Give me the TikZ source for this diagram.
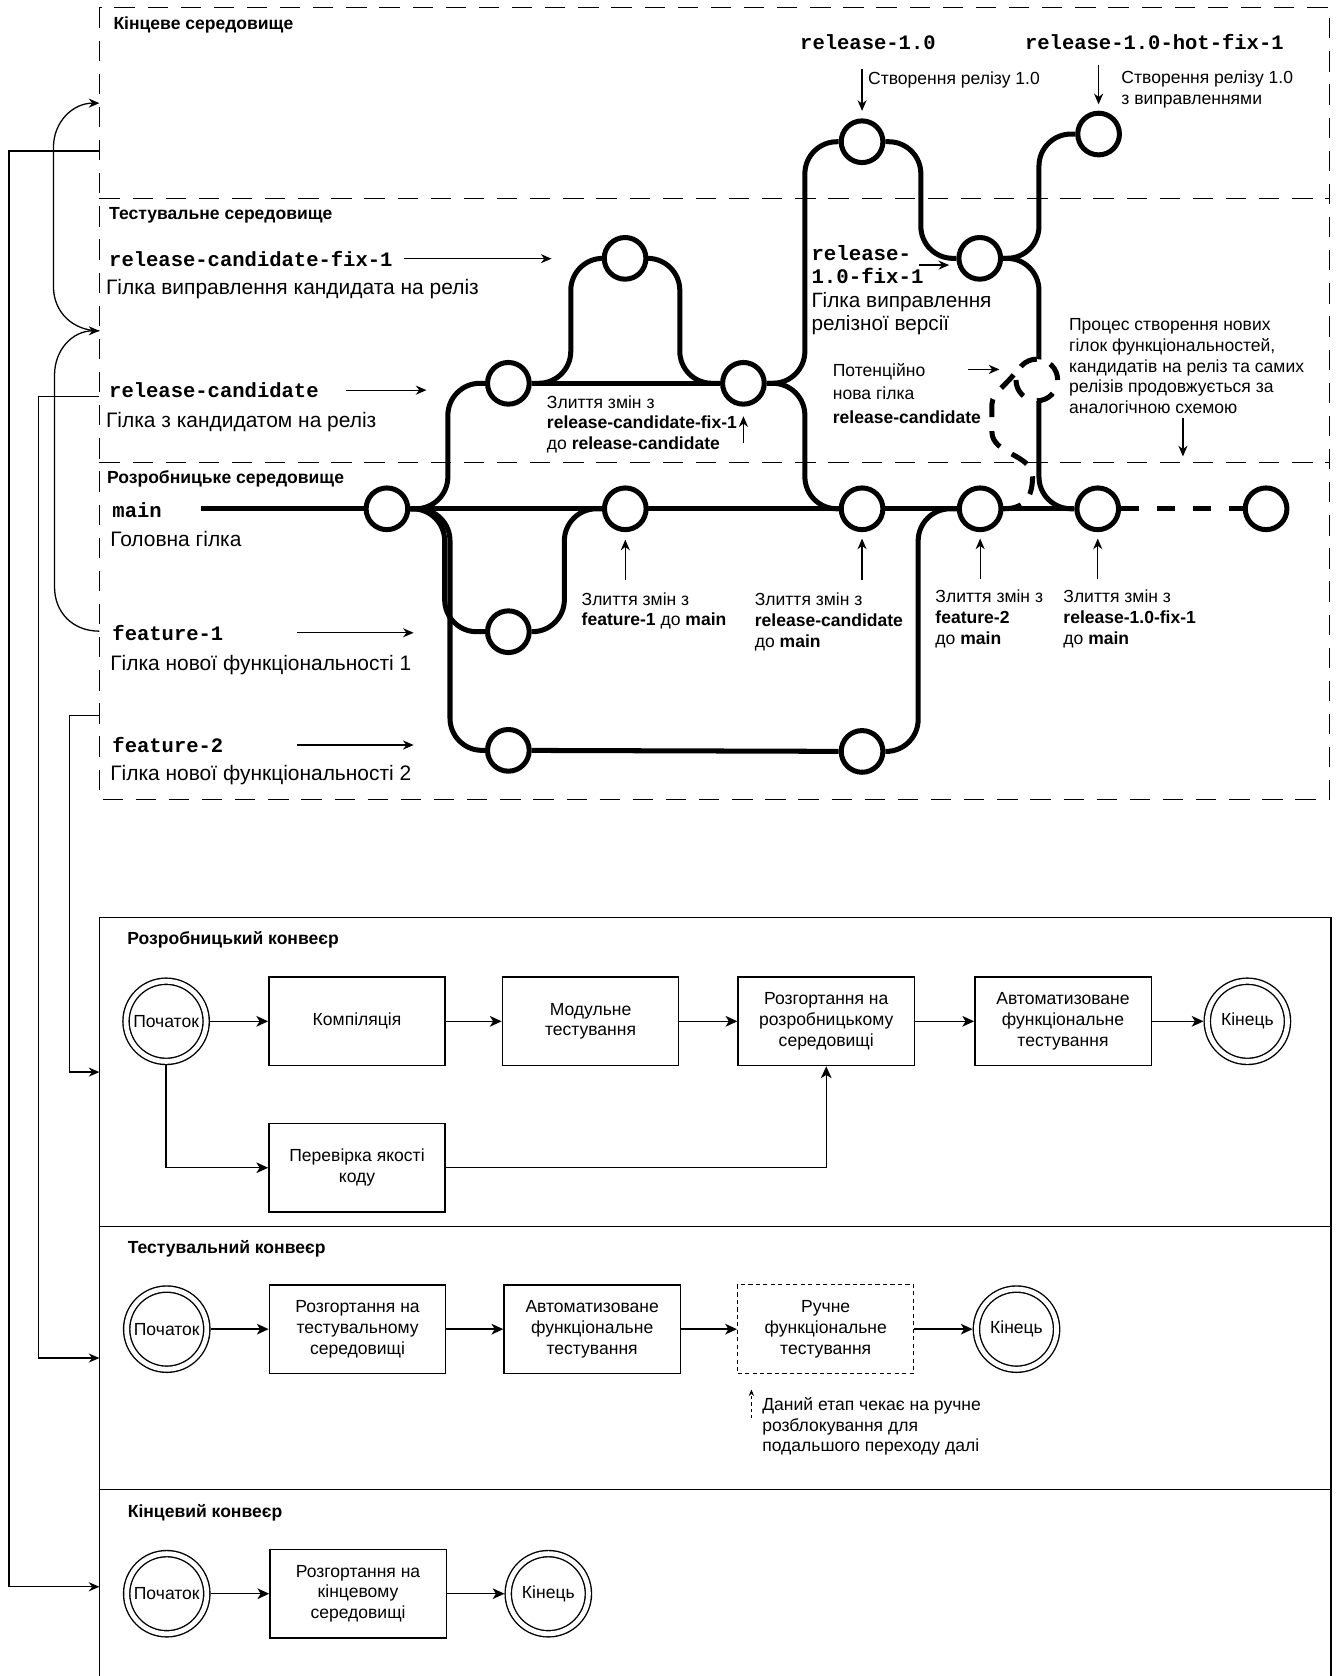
\documentclass[tikz,border=0pt]{standalone}
\usepackage{fontspec}
\setmainfont{Liberation Sans}
\setmonofont{Liberation Mono}
\usetikzlibrary{arrows.meta,calc,backgrounds}
\newcommand{\fsm}{\fontsize{16.4}{19.5}\selectfont}
\newcommand{\flg}{\fontsize{19.6}{22}\selectfont}
\newcommand{\fmo}{\fontsize{19.2}{20.5}\selectfont\ttfamily\bfseries}

\begin{document}
\begin{tikzpicture}[x=1pt,y=-1pt,
  zone/.style={draw=none, minimum width=1151pt, inner sep=0pt, outer sep=0pt},
  envline/.style={dash pattern=on 19pt off 12pt, line width=1.1pt},
  commit/.style={circle, draw, fill=white, line width=4.7pt, minimum size=39pt, inner sep=0pt},
  branch/.style={line width=4.7pt, rounded corners=30pt},
  lbl/.style={anchor=west, inner sep=0pt, align=left},
  wire/.style={line width=1.2pt},
  arr/.style={-{Stealth[length=10pt,width=8.5pt]}},
  stage/.style={draw, line width=1.3pt, minimum width=165pt, minimum height=83pt, align=center, font=\fsm, inner sep=2pt},
  term/.style={circle, draw, double, double distance=4.5pt, line width=1.3pt, minimum size=75pt, inner sep=0pt, outer sep=3.55pt, fill=white, font=\fsm},
  flow/.style={line width=1.3pt, -{Stealth[length=11pt,width=10pt,inset=3pt]}},
]
\useasboundingbox (0,0) rectangle (1249,1568);
\clip (0,0) rectangle (1249,1568);

% ---------- environments (dashed zones) ----------
\node[zone, minimum height=179pt] (envF) at (668.5,96.5) {};
\node[zone, minimum height=247pt] (envT) at (668.5,309.5) {};
\node[zone, minimum height=315pt] (envD) at (668.5,590.5) {};

% ---------- pipeline sections ----------
\node[zone, minimum width=1152pt, minimum height=289pt] (pDev) at (669,1003) {};
\node[zone, minimum width=1152pt, minimum height=246pt] (pTest) at (669,1270.5) {};
\node[zone, minimum width=1152pt, minimum height=182pt] (pFin) at (669,1484.5) {};

% ---------- commits ----------
\node[commit] (m0) at (362,476) {};
\node[commit] (m1) at (585,476) {};
\node[commit] (m2) at (806.5,476) {};
\node[commit] (m3) at (917,476) {};
\node[commit] (m4) at (1027,476) {};
\node[commit] (m5) at (1184.5,476) {};
\node[commit] (rc0) at (475.6,358.6) {};
\node[commit] (rcf) at (584.8,241.7) {};
\node[commit] (rc1) at (695.5,358.6) {};
\node[commit] (r10) at (806.5,132.6) {};
\node[commit] (fx1) at (916.6,241.7) {};
\node[commit] (hf) at (1027.8,125.4) {};
\node[commit] (fe1) at (475.6,591) {};
\node[commit] (fe2a) at (475.6,702) {};
\node[commit] (fe2b) at (806.5,703) {};
\node[commit, dash pattern=on 17pt off 13.6pt] (nrc) at (970,355.5) {};
\coordinate (mstart) at (188,476);

\begin{scope}[on background layer]
  % zone borders
  \draw[envline] (envF.north west) rectangle (envD.south east);
  \draw[envline] (envT.north west) -- (envT.north east);
  \draw[envline] (envD.north west) -- (envD.north east);
  % main branch
  \draw[branch] (mstart) -- (m4);
  \draw[line width=4.7pt, dash pattern=on 17pt off 16.5pt] (m4.east) -- (m5.west);
  % release-candidate
  \draw[branch] (m0.east) -- (419,476) -- (419,358.6) -- (rc0.west);
  \draw[branch] (rc0) -- (rc1);
  \draw[branch] (rc0.east) -- (534,358.6) -- (534,241.7) -- (rcf.west);
  \draw[branch] (rcf.east) -- (636,241.7) -- (636,358.6) -- (rc1.west);
  \draw[branch] (rc1.east) -- (753,358.6) -- (753,476) -- (m2.west);
  % release-1.0
  \draw[branch] (rc1.east) -- (753,358.6) -- (753,132.6) -- (r10.west);
  \draw[branch] (r10.east) -- (861.5,132.6) -- (861.5,241.7) -- (fx1.west);
  \draw[branch] (fx1.east) -- (972,241.7) -- (972,125.4) -- (hf.west);
  \draw[branch] (fx1.east) -- (972,241.7) -- (972,476) -- (m4.west);
  % features
  \draw[branch] (m0.east) -- (416,476) -- (416,591) -- (fe1.west);
  \draw[branch] (fe1.east) -- (528,591) -- (528,476) -- (m1.west);
  \draw[branch] (m0.east) -- (421,476) -- (421,702) -- (fe2a.west);
  \draw[branch] (fe2a) -- (fe2b);
  \draw[branch] (fe2b.east) -- (859,703) -- (859,476) -- (m3.west);
  % potential new release-candidate
  \draw[line width=4.7pt, dash pattern=on 17pt off 13pt]
    (m3.east) .. controls (958,476) and (966,466) .. (966,446)
    .. controls (966,425) and (928,425) .. (928,404)
    -- (928,378) .. controls (928,366) and (948,357) .. (nrc.north west);
\end{scope}

% ---------- zone titles and branch labels ----------
\node[lbl, font=\fsm\bfseries] (tF) at (106,23.4) {Кінцеве середовище};
\node[lbl, font=\fsm\bfseries] (tT) at (102,201) {Тестувальне середовище};
\node[lbl, font=\fsm\bfseries] (tD) at (100,448) {Розробницьке середовище};

\node[lbl, font=\fmo] (lrcf) at (102,242) {release-candidate-fix-1};
\node[lbl, font=\flg] (drcf) at (99,270) {Гілка виправлення кандидата на реліз};
\node[lbl, font=\fmo] (lrc) at (102,365) {release-candidate};
\node[lbl, font=\flg] (drc) at (99,394.5) {Гілка з кандидатом на реліз};
\node[lbl, font=\fmo] (lmain) at (105,477) {main};
\node[lbl, font=\flg] (dmain) at (103,504) {Головна гілка};
\node[lbl, font=\fmo] (lf1) at (105,592) {feature-1};
\node[lbl, font=\flg] (df1) at (103,622) {Гілка нової функціональності 1};
\node[lbl, font=\fmo] (lf2) at (105,697) {feature-2};
\node[lbl, font=\flg] (df2) at (103,725) {Гілка нової функціональності 2};

\coordinate (a1s) at (378,242); \coordinate (a1e) at (516,242);
\coordinate (a2s) at (324,365); \coordinate (a2e) at (399,365);
\coordinate (a3s) at (278,592); \coordinate (a3e) at (387,592);
\coordinate (a4s) at (278,697); \coordinate (a4e) at (387,697);
\draw[wire, arr] (a1s) -- (a1e);
\draw[wire, arr] (a2s) -- (a2e);
\draw[wire, arr] (a3s) -- (a3e);
\draw[wire, arr] (a4s) -- (a4e);

% ---------- release annotations ----------
\node[font=\fmo, inner sep=0pt] (tr10) at (812,39) {release-1.0};
\node[font=\fmo, inner sep=0pt] (thf) at (1080,39) {release-1.0-hot-fix-1};
\node[lbl, font=\fsm] (n10) at (812,75) {Створення релізу 1.0};
\node[lbl, font=\fsm] (nhf) at (1049,83.5) {Створення релізу 1.0\\з виправленнями};
\coordinate (a10) at (806.5,65);
\coordinate (ahf) at (1027.8,61);
\draw[wire, arr, shorten >=7pt] (a10) -- (r10.north);
\draw[wire, arr, shorten >=6pt] (ahf) -- (hf.north);

\node[lbl, font=\fontsize{19.4}{21.7}\selectfont] (lfx) at (759,271.5)
  {\texttt{\textbf{release-}}\\\texttt{\textbf{1.0-fix-1}}\\Гілка виправлення\\релізної версії};
\coordinate (afxs) at (859.5,248); \coordinate (afxe) at (888,248);
\draw[wire, arr] (afxs) -- (afxe);

\node[lbl, font=\fontsize{16.4}{22}\selectfont] (npot) at (779,368)
  {Потенційно\\нова гілка\\\textbf{release-candidate}};
\coordinate (apots) at (906,345.6); \coordinate (apote) at (935,345.6);
\draw[wire, arr] (apots) -- (apote);

\node[lbl, font=\fsm] (nproc) at (1000,342.5)
  {Процес створення нових\\гілок функціональностей,\\кандидатів на реліз та самих\\релізів продовжується за\\аналогічною схемою};
\coordinate (aprs) at (1106.7,391.4); \coordinate (apre) at (1106.7,427);
\draw[wire, arr] (aprs) -- (apre);

% ---------- merge notes ----------
\node[lbl, font=\fsm] (nm1) at (511.5,397)
  {Злиття змін з\\\textbf{release-candidate-fix-1}\\до \textbf{release-candidate}};
\node[lbl, font=\fsm] (nm2) at (544,571.5) {Злиття змін з\\\textbf{feature-1} до \textbf{main}};
\node[lbl, font=\fsm] (nm3) at (706,582) {Злиття змін з\\\textbf{release-candidate}\\до \textbf{main}};
\node[lbl, font=\fsm] (nm4) at (875,579) {Злиття змін з\\\textbf{feature-2}\\до \textbf{main}};
\node[lbl, font=\fsm] (nm5) at (994.7,579) {Злиття змін з\\\textbf{release-1.0-fix-1}\\до \textbf{main}};
\coordinate (am1) at (695.5,414.7);
\coordinate (am2) at (585,542.7);
\coordinate (am3) at (806.5,542.6);
\coordinate (am4) at (917,542);
\coordinate (am5) at (1027,542);
\draw[wire, arr, shorten >=9pt] (am1) -- (rc1.south);
\draw[wire, arr, shorten >=7pt] (am2) -- (m1.south);
\draw[wire, arr, shorten >=6pt] (am3) -- (m2.south);
\draw[wire, arr, shorten >=6pt] (am4) -- (m3.south);
\draw[wire, arr, shorten >=6pt] (am5) -- (m4.south);

% ---------- links from zones to pipelines ----------
\draw[wire, arr] ($(envF.north west)!0.75!(envF.south west)$) -- ++(-84.6,0) |- (pFin.west);
\draw[wire, arr] ($(envT.north west)!0.75!(envT.south west)$) -- ++(-57.2,0) |- (pTest.west);
\draw[wire, arr] ($(envD.north west)!0.75!(envD.south west)$) -- ++(-28.3,0) |- (pDev.west);
\draw[wire, arr] (envT.west) .. controls (68,309.5) and (50,292) .. (50,268) -- (50,138)
  .. controls (50,114) and (68,96.5) .. (envF.west);
\draw[wire, arr] (envD.west) .. controls (68,590.5) and (51,573) .. (51,549) -- (51,351)
  .. controls (51,327) and (68,309.5) .. (envT.west);

% ---------- pipeline frame ----------
\draw[line width=1.4pt] (pFin.south west) -- (pDev.north west) -- (pDev.north east) -- (pFin.south east);
\draw[line width=1.6pt] (pTest.north west) -- (pTest.north east);
\draw[line width=1.6pt] (pFin.north west) -- (pFin.north east);

% development pipeline
\node[lbl, font=\fsm\bfseries] (tdev) at (119,879.5) {Розробницький конвеєр};
\node[term] (ps1) at (155.4,955.5) {Початок};
\node[stage] (b1) at (334,955.5) {Компіляція};
\node[stage] (b2) at (552.5,955.5) {Модульне\\тестування};
\node[stage] (b3) at (773,955.5) {Розгортання на\\розробницькому\\середовищі};
\node[stage] (b4) at (994.5,955.5) {Автоматизоване\\функціональне\\тестування};
\node[term] (pe1) at (1167,955.5) {Кінець};
\node[stage] (bq) at (334,1092.5) {Перевірка якості\\коду};
\draw[flow] (ps1) -- (b1);
\draw[flow] (b1) -- (b2);
\draw[flow] (b2) -- (b3);
\draw[flow] (b3) -- (b4);
\draw[flow] (b4) -- (pe1);
\draw[flow] (ps1.south) |- (bq.west);
\draw[flow] (bq.east) -| (b3.south);

% testing pipeline
\node[lbl, font=\fsm\bfseries] (ttest) at (119.4,1168) {Тестувальний конвеєр};
\node[term] (ps2) at (156,1243.5) {Початок};
\node[stage] (t1) at (334.5,1243.5) {Розгортання на\\тестувальному\\середовищі};
\node[stage] (t2) at (554,1243.5) {Автоматизоване\\функціональне\\тестування};
\node[stage, line width=1.1pt, dash pattern=on 4pt off 3pt] (t3) at (772.5,1243.5) {Ручне\\функціональне\\тестування};
\node[term] (pe2) at (951,1243.5) {Кінець};
\draw[flow] (ps2) -- (t1);
\draw[flow] (t1) -- (t2);
\draw[flow] (t2) -- (t3);
\draw[flow] (t3) -- (pe2);
\node[lbl, font=\fsm] (nman) at (713,1334.5) {Даний етап чекає на ручне\\розблокування для\\подальшого переходу далі};
\coordinate (amans) at (703,1327); \coordinate (amane) at (703,1300);
\draw[line width=1pt, dash pattern=on 3pt off 3pt, -{Stealth[length=6pt,width=5pt]}] (amans) -- (amane);

% final pipeline
\node[lbl, font=\fsm\bfseries] (tfin) at (119.4,1415) {Кінцевий конвеєр};
\node[term] (ps3) at (156,1491) {Початок};
\node[stage] (f1) at (335,1491) {Розгортання на\\кінцевому\\середовищі};
\node[term] (pe3) at (513,1491) {Кінець};
\draw[flow] (ps3) -- (f1);
\draw[flow] (f1) -- (pe3);
\end{tikzpicture}
\end{document}
